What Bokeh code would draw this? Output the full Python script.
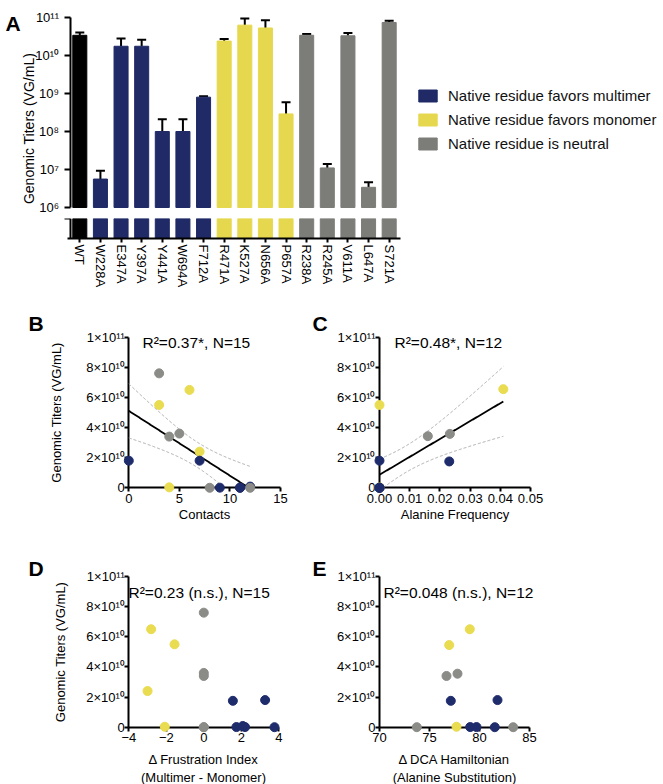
import numpy as np
from bokeh.plotting import figure
from bokeh.models import (Range1d, FixedTicker, CustomJSTickFormatter,
                          PrintfTickFormatter, Whisker, TeeHead, ColumnDataSource,
                          Legend, LegendItem, Label)
from bokeh.layouts import column, row
from bokeh.embed import file_html
from bokeh.resources import INLINE

FONT = "Liberation Sans"

# ---------------- data ----------------
mutants = ["WT", "W228A", "E347A", "Y397A", "Y441A", "W694A", "F712A",
           "R471A", "K527A", "N656A", "P657A",
           "R238A", "R245A", "V611A", "L647A", "S721A"]
mutant_group = ["wt"] + ["multimer"] * 6 + ["monomer"] * 4 + ["neutral"] * 5
titer = [3.4e10, 5.6e6, 1.75e10, 1.75e10, 1.0e8, 1.0e8, 8.0e8,
         2.4e10, 6.3e10, 5.3e10, 2.9e8,
         3.4e10, 1.1e7, 3.3e10, 3.4e6, 7.4e10]
titer_sd = [0.6e10, 3.7e6, 1.05e10, 0.85e10, 1.1e8, 1.1e8, 0.5e8,
            0.3e10, 3.1e10, 3.2e10, 3.0e8,
            0.3e10, 0.3e7, 0.6e10, 1.2e6, 0.8e10]
decade_ticks = [1e6, 1e7, 1e8, 1e9, 1e10, 1e11]

group_names = ["multimer", "monomer", "neutral"]
legend_labels = ["Native residue favors multimer",
                 "Native residue favors monomer",
                 "Native residue is neutral"]
bar_colors = {"wt": "#000000", "multimer": "#1f2a66",
              "monomer": "#e6d84e", "neutral": "#7c7d78"}
point_colors = {"multimer": "#1f2c6c", "monomer": "#e9dc50", "neutral": "#8b8b87"}

titer_ticks = [0, 2e10, 4e10, 6e10, 8e10, 1e11]

# B: contacts
contacts = [3, 6, 3, 4, 5, 7, 7, 0, 4, 8, 9, 11, 11, 12, 12]
contacts_titer = [7.6e10, 6.5e10, 5.5e10, 3.4e10, 3.6e10, 2.4e10, 1.8e10, 1.8e10,
                  2.9e8, 1.1e7, 1.0e8, 1.0e8, 5.6e6, 8.0e8, 3.4e6]
contacts_group = ["neutral", "monomer", "monomer", "neutral", "neutral", "monomer",
                  "multimer", "multimer", "monomer", "neutral", "multimer", "multimer",
                  "multimer", "multimer", "neutral"]
contacts_ticks = [0, 5, 10, 15]
contacts_band_t = 1.5

# C: alanine frequency
ala_freq = [0.0, 0.0, 0.0, 0.0, 0.0, 0.0, 0.0, 0.0, 0.0233, 0.016, 0.0231, 0.041]
ala_titer = [1.1e7, 3.4e6, 2.9e8, 5.5e10, 1.8e10, 1.0e8, 1.0e8, 5.6e6,
             3.58e10, 3.43e10, 1.75e10, 6.55e10]
ala_group = ["neutral", "neutral", "monomer", "monomer", "multimer", "multimer",
             "multimer", "multimer", "neutral", "neutral", "multimer", "monomer"]
ala_ticks = [0.0, 0.01, 0.02, 0.03, 0.04, 0.05]
ala_band_t = 1.72

# D: frustration index
frust = [0, -2.81, -1.56, 0, 0, -3.0, 1.55, 3.27, -2.08, 0, 0, 1.74, 2.08, 2.2, 3.77]
frust_titer = [7.6e10, 6.5e10, 5.5e10, 3.6e10, 3.4e10, 2.4e10, 1.75e10, 1.8e10,
               2.9e8, 1.1e7, 3.4e6, 1.0e8, 8.0e8, 1.0e8, 5.6e6]
frust_group = ["neutral", "monomer", "monomer", "neutral", "neutral", "monomer",
               "multimer", "multimer", "monomer", "neutral", "neutral", "multimer",
               "multimer", "multimer", "multimer"]
frust_ticks = [-4, -2, 0, 2, 4]

# E: DCA hamiltonian
dca = [79.03, 76.97, 76.7, 77.8, 77.13, 81.8, 73.73, 77.7, 79.07, 79.7, 81.53, 83.37]
dca_titer = [6.5e10, 5.45e10, 3.4e10, 3.55e10, 1.75e10, 1.8e10, 1.1e7, 2.9e8,
             1.0e8, 1.0e8, 5.6e6, 3.4e6]
dca_group = ["monomer", "monomer", "neutral", "neutral", "multimer", "multimer",
             "neutral", "monomer", "multimer", "multimer", "multimer", "neutral"]
dca_ticks = [70, 75, 80, 85]

# ---------------- helpers ----------------
SUP = '["\\u2070","\\u00b9","\\u00b2","\\u00b3","\\u2074","\\u2075","\\u2076","\\u2077","\\u2078","\\u2079"]'
log_code = ("const s = " + SUP + "; const e = Math.round(Math.log10(tick));"
            " return '10' + String(e).split('').map(c => s[+c]).join('');")
sci_code = ("const s = " + SUP + "; if (Math.abs(tick) < 1) { return '0'; }"
            " const e = Math.floor(Math.log10(Math.abs(tick)) + 1e-9);"
            " const m = Math.round(tick / Math.pow(10, e));"
            " return m + '\\u00d710' + String(e).split('').map(c => s[+c]).join('');")

W = 663


def base_style(p):
    p.background_fill_color = "white"
    p.border_fill_color = "white"
    p.outline_line_color = None
    p.grid.visible = False


def style_axis(ax, size="13px"):
    ax.axis_line_width = 2
    ax.axis_line_color = "black"
    ax.major_tick_line_width = 2
    ax.major_tick_line_color = "black"
    ax.major_tick_out = 4
    ax.major_tick_in = 0
    ax.minor_tick_line_color = None
    ax.major_label_text_font = FONT
    ax.major_label_text_font_size = size
    ax.major_label_text_color = "black"
    ax.axis_label_text_font = FONT
    ax.axis_label_text_font_size = "13px"
    ax.axis_label_text_font_style = "normal"
    ax.axis_label_text_color = "black"


def letter(p, xy, t):
    p.add_layout(Label(x=xy[0], y=xy[1], text=t, text_font=FONT, text_font_style="bold",
                       text_font_size="21px", text_align="left",
                       text_baseline="alphabetic", text_color="black"))


# ---------------- panel A : page geometry ----------------
A_X0, A_DX = 79.3, 20.625      # first bar centre and bar pitch (px)
A_TOP, A_DEC = 17.0, 38.0      # px of 1e11 and px per decade
A_AXIS_X = (69.5 - A_X0) / A_DX


def a_x(px):
    return (px - A_X0) / A_DX


def a_y(py):
    return 10 ** (11 - (py - A_TOP) / A_DEC)


bar_x = list(range(len(mutants)))
bar_labels = {i: m for i, m in enumerate(mutants)}

pa = figure(width=W, height=215, x_range=Range1d(a_x(0), a_x(W)),
            y_axis_type="log", y_range=Range1d(a_y(215), a_y(0)),
            x_axis_location=None, toolbar_location=None, output_backend="svg",
            min_border=0)
base_style(pa)
renderers = {}
for g in ["wt"] + group_names:
    idx = [i for i, gg in enumerate(mutant_group) if gg == g]
    src = ColumnDataSource(dict(x=[bar_x[i] for i in idx], top=[titer[i] for i in idx]))
    renderers[g] = pa.vbar(x="x", top="top", bottom=decade_ticks[0], width=0.68, source=src,
                           fill_color=bar_colors[g], line_color=bar_colors[g])
err_src = ColumnDataSource(dict(x=bar_x, lower=titer,
                                upper=[t + s for t, s in zip(titer, titer_sd)]))
pa.add_layout(Whisker(source=err_src, base="x", lower="lower", upper="upper",
                      dimension="height", line_width=2, line_color="black",
                      upper_head=TeeHead(size=9, line_width=2, line_color="black"),
                      lower_head=None))
ya = pa.yaxis[0]
ya.ticker = FixedTicker(ticks=decade_ticks)
ya.formatter = CustomJSTickFormatter(code=log_code)
style_axis(ya, "13px")
ya.fixed_location = A_AXIS_X
ya.bounds = (decade_ticks[0], decade_ticks[-1])
ya.major_tick_out = 6
ya.major_label_standoff = 5

legend = Legend(items=[LegendItem(label=lab, renderers=[renderers[g]])
                       for g, lab in zip(group_names, legend_labels)],
                location=(416, 62), padding=0, margin=0, spacing=4,
                glyph_width=23, glyph_height=15, label_height=20, label_standoff=9,
                label_text_font=FONT, label_text_font_size="15px",
                label_text_color="#111111", border_line_color=None,
                background_fill_alpha=0)
pa.add_layout(legend)

pa.add_layout(Label(x=a_x(28), y=a_y(128), text="Genomic Titers (VG/mL)", angle=np.pi / 2,
                    text_font=FONT, text_font_size="14px", text_align="center",
                    text_baseline="middle", text_color="black"))
letter(pa, (a_x(5), a_y(23)), "A")

# ---------------- panel A (lower break segment) ----------------
SEG_TOP, SEG_BOT = 218.0, 238.0
seg_px = (SEG_BOT - SEG_TOP) / decade_ticks[0]
pb0 = figure(width=W, height=75, x_range=pa.x_range,
             y_range=Range1d(-(290 - SEG_BOT) / seg_px, decade_ticks[0]),
             toolbar_location=None, output_backend="svg",
             min_border=0, min_border_top=int(SEG_TOP - 215))
base_style(pb0)
pb0.vbar(x=bar_x, top=titer, bottom=0, width=0.68,
         fill_color=[bar_colors[g] for g in mutant_group],
         line_color=[bar_colors[g] for g in mutant_group])
yb = pb0.yaxis[0]
yb.ticker = FixedTicker(ticks=[decade_ticks[0]])
yb.formatter = CustomJSTickFormatter(code="return '';")
style_axis(yb)
yb.fixed_location = A_AXIS_X
yb.bounds = (0, decade_ticks[0])
yb.major_tick_out = 6
xb = pb0.xaxis[0]
style_axis(xb, "13px")
xb.ticker = FixedTicker(ticks=bar_x)
xb.major_label_overrides = bar_labels
xb.major_label_orientation = "vertical"
xb.major_label_standoff = 2
xb.fixed_location = 0
xb.bounds = (a_x(67), a_x(400))


# ---------------- scatter panels ----------------
def scatter_panel(cl, ct, w, h, axl, axr, axt, axb, xmin, xmax):
    sx = (axr - axl) / (xmax - xmin)
    sy = (axb - axt) / 1e11
    xr = Range1d(xmin - (axl - cl) / sx, xmin + (cl + w - axl) / sx)
    yr = Range1d(-(ct + h - axb) / sy, (axb - ct) / sy)
    p = figure(width=w, height=h, x_range=xr, y_range=yr,
               toolbar_location=None, output_backend="svg", min_border=0)
    base_style(p)

    def to_data(px, py):
        return xmin + (px - axl) / sx, (axb - py) / sy
    return p, to_data


def finish_scatter(p, xs, ys, groups, xticks, xmin, xmax, xfmt=None):
    p.scatter(xs, ys, size=9, fill_color=[point_colors[g] for g in groups],
              line_color=[point_colors[g] for g in groups])
    xa, yax = p.xaxis[0], p.yaxis[0]
    xa.ticker = FixedTicker(ticks=xticks)
    yax.ticker = FixedTicker(ticks=titer_ticks)
    yax.formatter = CustomJSTickFormatter(code=sci_code)
    if xfmt is not None:
        xa.formatter = xfmt
    style_axis(xa)
    style_axis(yax)
    xa.fixed_location = 0
    yax.fixed_location = xmin
    xa.bounds = (xmin, xmax)
    yax.bounds = (0, titer_ticks[-1])
    xa.major_label_standoff = 2
    yax.major_label_standoff = 0
    xa.level = "underlay"
    yax.level = "underlay"


def add_fit(p, xs, ys, tband):
    x = np.asarray(xs, float)
    y = np.asarray(ys, float)
    n = len(x)
    xbar, ybar = x.mean(), y.mean()
    sxx = ((x - xbar) ** 2).sum()
    slope = ((x - xbar) * (y - ybar)).sum() / sxx
    icpt = ybar - slope * xbar
    s = np.sqrt(((y - (icpt + slope * x)) ** 2).sum() / (n - 2))
    gx = np.linspace(x.min(), x.max(), 300)
    yh = icpt + slope * gx
    half = tband * s * np.sqrt(1.0 / n + (gx - xbar) ** 2 / sxx)
    for curve, col, lw, dash in [(yh + half, "#a8a8a8", 1, "3 2"),
                                 (yh - half, "#a8a8a8", 1, "3 2"),
                                 (yh, "black", 1.8, "solid")]:
        cy = np.where(curve >= 0, curve, np.nan)
        p.line(gx, cy, line_color=col, line_width=lw, line_dash=dash)


def stat_label(p, xy, text):
    p.add_layout(Label(x=xy[0], y=xy[1], text=text, text_font=FONT, text_font_size="15.5px",
                       text_align="left", text_baseline="middle", text_color="black"))


YLAB = "Genomic Titers (VG/mL)"

# B
pB, dB = scatter_panel(0, 290, 308, 250, 128.3, 280, 336.7, 487.3, 0, 15)
add_fit(pB, contacts, contacts_titer, contacts_band_t)
finish_scatter(pB, contacts, contacts_titer, contacts_group, contacts_ticks, 0, 15)
pB.xaxis.axis_label = "Contacts"
pB.xaxis.axis_label_standoff = 1
pB.yaxis.axis_label = YLAB
pB.yaxis.axis_label_standoff = 19
stat_label(pB, dB(142, 342), "R\u00b2=0.37*, N=15")
letter(pB, dB(28, 323), "B")

# C
pC, dC = scatter_panel(308, 290, 355, 250, 379, 530, 336.7, 487.3, 0, 0.05)
add_fit(pC, ala_freq, ala_titer, ala_band_t)
finish_scatter(pC, ala_freq, ala_titer, ala_group, ala_ticks, 0, 0.05,
               PrintfTickFormatter(format="%.2f"))
pC.xaxis.axis_label = "Alanine Frequency"
pC.xaxis.axis_label_standoff = 1
stat_label(pC, dC(394, 342), "R\u00b2=0.48*, N=12")
letter(pC, dC(312, 323), "C")

# D
pD, dD = scatter_panel(0, 540, 308, 244, 128.3, 278.3, 576, 726.7, -4, 4)
finish_scatter(pD, frust, frust_titer, frust_group, frust_ticks, -4, 4)
pD.xaxis.axis_label = "\u0394 Frustration Index\n(Multimer - Monomer)"
pD.xaxis.axis_label_standoff = 6
pD.yaxis.axis_label = YLAB
pD.yaxis.axis_label_standoff = 15
stat_label(pD, dD(128, 592), "R\u00b2=0.23 (n.s.), N=15")
letter(pD, dD(28, 568), "D")

# E
pE, dE = scatter_panel(308, 540, 355, 244, 379, 529, 576, 726.7, 70, 85)
finish_scatter(pE, dca, dca_titer, dca_group, dca_ticks, 70, 85)
pE.xaxis.axis_label = "\u0394 DCA Hamiltonian\n(Alanine Substitution)"
pE.xaxis.axis_label_standoff = 6
stat_label(pE, dE(383, 592), "R\u00b2=0.048 (n.s.), N=12")
letter(pE, dE(312, 568), "E")

layout = column(pa, pb0, row(pB, pC), row(pD, pE))
with open("out.html", "w", encoding="utf-8") as f:
    f.write(file_html(layout, INLINE))
